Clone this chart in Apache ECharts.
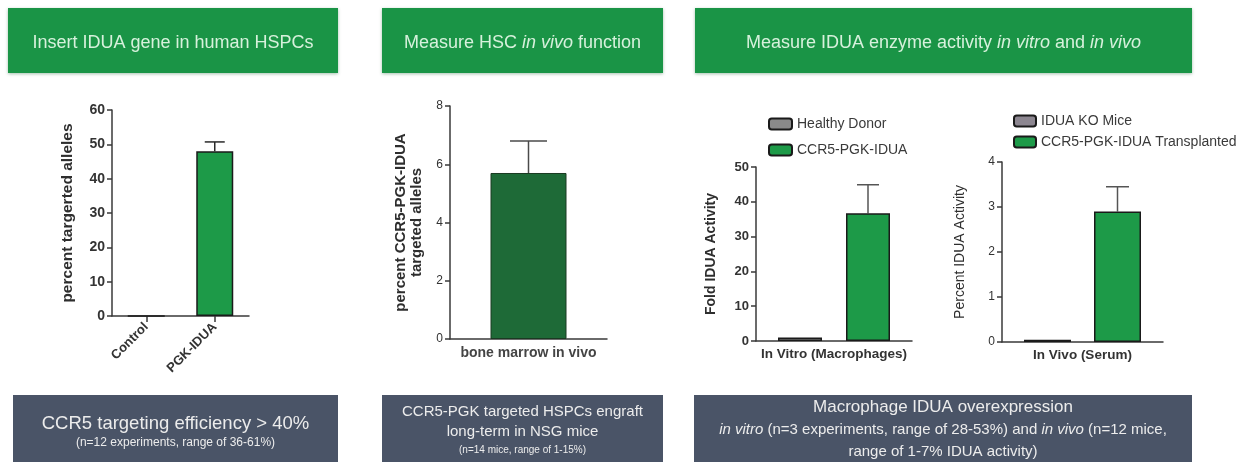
<!DOCTYPE html>
<html>
<head>
<meta charset="utf-8">
<script src="https://cdn.jsdelivr.net/npm/echarts@6/dist/echarts.min.js"></script>
<style>
  html, body { margin: 0; padding: 0; background: #ffffff; }
  #chart { width: 1247px; height: 462px; }
</style>
</head>
<body>
<div id="chart"></div>
<script>
// Panel 1: targeting efficiency in HSPCs
const cats1 = ['Control', 'PGK-IDUA'];
const vals1 = [0, 48];
const err1 = [null, 2.7];

// Panel 2: engraftment in bone marrow
const cats2 = ['bone marrow in vivo'];
const vals2 = [5.7];
const err2 = [1.1];

// Panel 3: in vitro enzyme activity
const cats3 = ['In Vitro (Macrophages)'];
const healthy3 = [1.0];
const ccr5In3 = [36.7];
const err3 = [8.2];

// Panel 4: in vivo enzyme activity
const cats4 = ['In Vivo (Serum)'];
const ko4 = [0.05];
const trans4 = [2.9];
const err4 = [0.55];

const FONT = '"Liberation Sans", Arial, Helvetica, sans-serif';
const GREEN = '#1d9a48';
const DARK_GREEN = '#1e6a37';
const GREY = '#8a8a8a';
const HEADER = '#1a9446';
const SLATE = '#4a5467';
const AX = '#3a3a3a';
const LIGHT = '#ececec';

const chart = echarts.init(document.getElementById('chart'), null, { renderer: 'canvas' });

function yAxisCfg(gi, max, interval, name, nameGap, o) {
  return {
    type: 'value', gridIndex: gi, min: 0, max: max, interval: interval,
    name: name, nameLocation: 'middle', nameGap: nameGap, nameRotate: 90,
    nameTextStyle: { fontFamily: FONT, fontSize: o.nameSize, fontWeight: o.nameBold ? 'bold' : 'normal', color: '#2e2e2e', lineHeight: o.nameLH || 17 },
    axisLine: { show: true, lineStyle: { color: AX, width: 1.5 } },
    axisTick: { show: true, length: 5, lineStyle: { color: AX, width: 1.5 } },
    axisLabel: { fontFamily: FONT, fontSize: o.labelSize, fontWeight: o.labelBold ? 'bold' : 'normal', color: '#333', margin: 7 },
    splitLine: { show: false }
  };
}

function xAxisCfg(gi, cats, labelSize, extra) {
  return Object.assign({
    type: 'category', gridIndex: gi, data: cats,
    axisLine: { show: true, lineStyle: { color: AX, width: 1.5 } },
    axisTick: { show: false },
    axisLabel: { fontFamily: FONT, fontSize: labelSize, fontWeight: 'bold', color: '#333', margin: 6 }
  }, extra || {});
}

// vertical error bar drawn above a bar, with a cap
function errSeries(gi, vals, errs, offset, cap, color) {
  const data = [];
  vals.forEach((v, i) => { if (errs[i] != null) data.push([i, v, errs[i]]); });
  return {
    type: 'custom', xAxisIndex: gi, yAxisIndex: gi, silent: true, z: 1,
    encode: { x: 0, y: 1 },
    data: data,
    renderItem: (params, api) => {
      const base = api.coord([api.value(0), api.value(1)]);
      const top = api.coord([api.value(0), api.value(1) + api.value(2)]);
      const x = base[0] + offset;
      const st = { stroke: color, lineWidth: 1.5 };
      return {
        type: 'group',
        children: [
          { type: 'line', shape: { x1: x, y1: base[1], x2: x, y2: top[1] }, style: st },
          { type: 'line', shape: { x1: x - cap / 2, y1: top[1], x2: x + cap / 2, y2: top[1] }, style: st }
        ]
      };
    }
  };
}

// grouped bar geometry for panels 3 and 4
const BW3 = 44, GAP3 = 24;
const BW4 = 47, GAP4 = 23;

const headRich = {
  a: { fontFamily: FONT, fontSize: 18, fill: '#d7f1dc' },
  i: { fontFamily: FONT, fontSize: 18, fontStyle: 'italic', fill: '#d7f1dc' }
};

function headerBox(x, w, text) {
  return {
    type: 'group', children: [
      { type: 'rect', shape: { x: x, y: 8, width: w, height: 65 },
        style: { fill: HEADER, shadowBlur: 3, shadowOffsetY: 1, shadowColor: 'rgba(0,80,30,0.35)' } },
      { type: 'text', x: x + w / 2, y: 43,
        style: { text: text, rich: headRich, align: 'center', verticalAlign: 'middle' } }
    ]
  };
}

function rs(size, lh, italic) {
  return { fontFamily: FONT, fontSize: size, lineHeight: lh, fill: LIGHT, fontStyle: italic ? 'italic' : 'normal' };
}
const footRich = {
  big: rs(18.5, 21),
  sub: rs(12, 16),
  mid: rs(15, 20),
  xs: rs(10, 17),
  top: rs(17, 23),
  med: rs(15, 22),
  medi: rs(15, 22, true)
};

function footBox(x, w, text, cy) {
  return {
    type: 'group', children: [
      { type: 'rect', shape: { x: x, y: 395, width: w, height: 67 }, style: { fill: SLATE } },
      { type: 'text', x: x + w / 2, y: cy,
        style: { text: text, rich: footRich, align: 'center', verticalAlign: 'middle' } }
    ]
  };
}

const option = {
  backgroundColor: '#ffffff',
  animation: false,
  grid: [
    { left: 112, top: 110, width: 137, height: 206 },
    { left: 450, top: 106, width: 157, height: 233 },
    { left: 756, top: 167, width: 156, height: 174 },
    { left: 1002, top: 162, width: 161, height: 180 }
  ],
  xAxis: [
    xAxisCfg(0, cats1, 13, {
      axisTick: { show: true, alignWithLabel: true, length: 6, lineStyle: { color: AX, width: 1.5 } },
      axisLabel: { fontFamily: FONT, fontSize: 13, fontWeight: 'bold', color: '#333', rotate: 45, margin: 9 }
    }),
    xAxisCfg(1, cats2, 14, { axisLabel: { fontFamily: FONT, fontSize: 14, fontWeight: 'bold', color: '#444', margin: 7 } }),
    xAxisCfg(2, cats3, 13.5),
    xAxisCfg(3, cats4, 13.5)
  ],
  yAxis: [
    yAxisCfg(0, 60, 10, 'percent targerted alleles', 36, { nameSize: 15.5, nameBold: true, labelSize: 14, labelBold: true }),
    yAxisCfg(1, 8, 2, 'percent CCR5-PGK-IDUA\ntargeted alleles', 25, { nameSize: 15, nameBold: true, labelSize: 12, labelBold: false, nameLH: 16 }),
    yAxisCfg(2, 50, 10, 'Fold IDUA Activity', 36, { nameSize: 14, nameBold: true, labelSize: 13, labelBold: true }),
    yAxisCfg(3, 4, 1, 'Percent IDUA Activity', 33, { nameSize: 14, nameBold: false, labelSize: 12, labelBold: false })
  ],
  legend: [
    {
      left: 763, top: 112, orient: 'vertical', itemWidth: 23, itemHeight: 11, itemGap: 12,
      data: ['Healthy Donor', 'CCR5-PGK-IDUA'],
      textStyle: { fontFamily: FONT, fontSize: 14, color: '#3a3a3a' }
    },
    {
      left: 1008, top: 109, orient: 'vertical', itemWidth: 22, itemHeight: 11, itemGap: 7,
      data: ['IDUA KO Mice', 'CCR5-PGK-IDUA Transplanted'],
      textStyle: { fontFamily: FONT, fontSize: 14, color: '#3a3a3a' }
    }
  ],
  series: [
    {
      type: 'bar', name: 'targeted', xAxisIndex: 0, yAxisIndex: 0, data: vals1, barWidth: 37, z: 2,
      itemStyle: { color: GREEN, borderColor: '#1a1a1a', borderWidth: 1.5 }
    },
    errSeries(0, vals1, err1, 0, 20, '#2a2a2a'),
    {
      type: 'bar', name: 'bone marrow', xAxisIndex: 1, yAxisIndex: 1, data: vals2, barWidth: 76, z: 2,
      itemStyle: { color: DARK_GREEN, borderColor: '#1a3a22', borderWidth: 1 }
    },
    errSeries(1, vals2, err2, 0, 37, '#4a4a4a'),
    {
      type: 'bar', name: 'Healthy Donor', xAxisIndex: 2, yAxisIndex: 2, data: healthy3,
      barWidth: BW3, barGap: (GAP3 / BW3 * 100) + '%', z: 2,
      itemStyle: { color: GREY, borderColor: '#1a1a1a', borderWidth: 1.5 }
    },
    {
      type: 'bar', name: 'CCR5-PGK-IDUA', xAxisIndex: 2, yAxisIndex: 2, data: ccr5In3,
      barWidth: BW3, barGap: (GAP3 / BW3 * 100) + '%', z: 2,
      itemStyle: { color: GREEN, borderColor: '#1a1a1a', borderWidth: 1.5 }
    },
    errSeries(2, ccr5In3, err3, (BW3 + GAP3) / 2, 22, '#555'),
    {
      type: 'bar', name: 'IDUA KO Mice', xAxisIndex: 3, yAxisIndex: 3, data: ko4,
      barWidth: BW4, barGap: (GAP4 / BW4 * 100) + '%', z: 2,
      itemStyle: { color: '#8c8690', borderColor: '#1a1a1a', borderWidth: 1.5 }
    },
    {
      type: 'bar', name: 'CCR5-PGK-IDUA Transplanted', xAxisIndex: 3, yAxisIndex: 3, data: trans4,
      barWidth: BW4, barGap: (GAP4 / BW4 * 100) + '%', z: 2,
      itemStyle: { color: GREEN, borderColor: '#1a1a1a', borderWidth: 1.5 }
    },
    errSeries(3, trans4, err4, (BW4 + GAP4) / 2, 23, '#555')
  ],
  graphic: [
    headerBox(8, 330, '{a|Insert IDUA gene in human HSPCs}'),
    headerBox(382, 281, '{a|Measure HSC }{i|in vivo}{a| function}'),
    headerBox(695, 497, '{a|Measure IDUA enzyme activity }{i|in vitro}{a| and }{i|in vivo}'),
    footBox(13, 325, '{big|CCR5 targeting efficiency > 40%}\n{sub|(n=12 experiments, range of 36-61%)}', 432),
    footBox(382, 281, '{mid|CCR5-PGK targeted HSPCs engraft}\n{mid|long-term in NSG mice}\n{xs|(n=14 mice, range of 1-15%)}', 430),
    footBox(694, 498, '{top|Macrophage IDUA overexpression}\n{medi|in vitro}{med| (n=3 experiments, range of 28-53%) and }{medi|in vivo}{med| (n=12 mice,}\n{med|range of 1-7% IDUA activity)}', 429)
  ]
};

chart.setOption(option);
</script>
</body>
</html>
